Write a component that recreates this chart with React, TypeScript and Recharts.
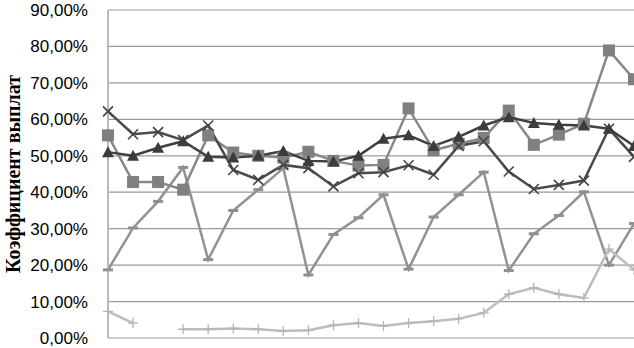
import { LineChart, Line, XAxis, YAxis, CartesianGrid } from 'recharts';

// 22 periods, no axis labels on the original
const periods = Array.from({ length: 22 }, (_, i) => `${i + 1}`);

const triangleVals = [51, 50, 52.2, 54, 49.7, 49.5, 50, 51.3, 48.6, 48.4, 50, 54.7, 55.6, 52.7, 55.2, 58.3, 60.6, 59, 58.5, 58.3, 57.4, 52.7];
const crossVals = [62.2, 55.9, 56.5, 54.3, 58.3, 46.1, 43.4, 47.5, 46.6, 41.6, 45.2, 45.5, 47.4, 44.8, 52.7, 54, 45.7, 40.9, 42, 43.2, 57.4, 49.7];
const squareVals = [55.6, 42.8, 42.8, 40.7, 55.6, 50.9, 50, 49.5, 51.1, 48.6, 47.3, 47.5, 63, 51.5, 53.3, 54.9, 62.4, 53, 55.8, 58.8, 78.9, 71];
const dashVals = [18.7, 30.2, 37.5, 46.8, 21.5, 35, 40.7, 46.6, 17.3, 28.4, 33, 39.3, 18.9, 33.2, 39.3, 45.5, 18.5, 28.6, 33.6, 40.1, 20, 31.4];
const plusVals = [7.3, 4.1, null, 2.4, 2.4, 2.6, 2.4, 1.9, 2.1, 3.5, 4.1, 3.3, 4.1, 4.6, 5.3, 6.9, 12, 13.8, 12, 11, 24.4, 18.7];

const yTicks = [0, 10, 20, 30, 40, 50, 60, 70, 80, 90];

const data = periods.map((p, i) => ({
  period: p,
  tri: triangleVals[i],
  cross: crossVals[i],
  square: squareVals[i],
  dash: dashVals[i],
  plus: plusVals[i],
}));

const TriangleDot = (props: any) => {
  const { cx, cy } = props;
  if (cx == null || cy == null) return null;
  return <path d={`M${cx},${cy - 6} L${cx + 6},${cy + 5} L${cx - 6},${cy + 5} Z`} fill="#3c3c3c" />;
};

const CrossDot = (props: any) => {
  const { cx, cy } = props;
  if (cx == null || cy == null) return null;
  return (
    <path
      d={`M${cx - 5},${cy - 5} L${cx + 5},${cy + 5} M${cx - 5},${cy + 5} L${cx + 5},${cy - 5}`}
      stroke="#444"
      strokeWidth={1.6}
    />
  );
};

const SquareDot = (props: any) => {
  const { cx, cy } = props;
  if (cx == null || cy == null) return null;
  return <rect x={cx - 6} y={cy - 6} width={12} height={12} fill="#808080" />;
};

const DashDot = (props: any) => {
  const { cx, cy } = props;
  if (cx == null || cy == null) return null;
  return <rect x={cx - 5} y={cy - 1.5} width={10} height={3} fill="#8f8f8f" />;
};

const PlusDot = (props: any) => {
  const { cx, cy } = props;
  if (cx == null || cy == null) return null;
  return (
    <path
      d={`M${cx - 5},${cy} L${cx + 5},${cy} M${cx},${cy - 5} L${cx},${cy + 5}`}
      stroke="#b5b5b5"
      strokeWidth={1.3}
    />
  );
};

const YLabel = (props: any) => {
  const vb = props.viewBox || { x: 0, y: 9, width: 108, height: 329 };
  const x = vb.x + 13;
  const y = vb.y + vb.height / 2;
  return (
    <text
      x={x}
      y={y}
      transform={`rotate(-90, ${x}, ${y})`}
      textAnchor="middle"
      dominantBaseline="central"
      fontFamily="'Liberation Serif', 'Times New Roman', serif"
      fontWeight="bold"
      fontSize={20}
      fill="#000"
    >
      Коэффициент выплат
    </text>
  );
};

export default function App() {
  return (
    <div style={{ position: 'absolute', left: 0, top: 0, width: 634, height: 348, background: '#fff' }}>
      <LineChart width={634} height={348} data={data} margin={{ top: 10, right: 0, bottom: 10, left: 0 }}>
        <CartesianGrid vertical={false} stroke="#9a9a9a" strokeWidth={1.2} />
        <XAxis dataKey="period" hide />
        <YAxis
          width={108}
          domain={[0, 90]}
          ticks={yTicks}
          interval={0}
          tickFormatter={(v: number) => `${v},00%`}
          tickLine={false}
          tickSize={0}
          tickMargin={20}
          axisLine={{ stroke: '#b8b8b8', strokeWidth: 2 }}
          tick={{ fill: '#000', fontSize: 17, fontFamily: "'Liberation Sans', Arial, sans-serif" }}
          label={<YLabel />}
        />
        <Line dataKey="dash" stroke="#929292" strokeWidth={2.5} dot={<DashDot />} isAnimationActive={false} />
        <Line dataKey="plus" stroke="#bdbdbd" strokeWidth={2.5} dot={<PlusDot />} isAnimationActive={false} />
        <Line dataKey="square" stroke="#888" strokeWidth={2.5} dot={<SquareDot />} isAnimationActive={false} />
        <Line dataKey="cross" stroke="#4a4a4a" strokeWidth={2.5} dot={<CrossDot />} isAnimationActive={false} />
        <Line dataKey="tri" stroke="#404040" strokeWidth={2.5} dot={<TriangleDot />} isAnimationActive={false} />
      </LineChart>
    </div>
  );
}
